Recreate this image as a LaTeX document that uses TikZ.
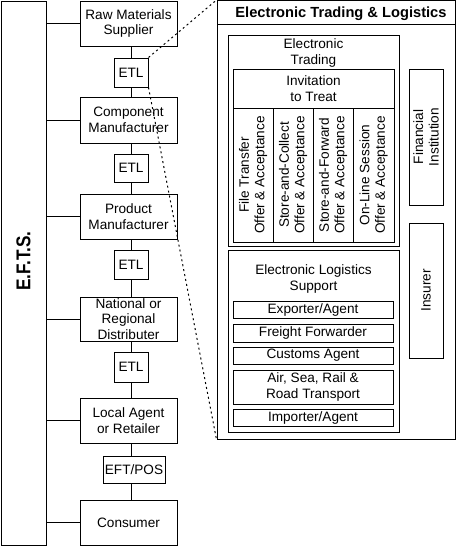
\documentclass[tikz,border=0pt]{standalone}
\usepackage{fontspec}
\setmainfont{Liberation Sans}
\newlength\pxu
\setlength\pxu{0.75pt}
\tikzset{
  box/.style={draw, line width=0.75pt, rectangle, inner sep=0pt, align=center,
    font=\fontsize{10.2}{11.6}\selectfont},
  wh/.style 2 args={minimum width=#1*\pxu, minimum height=#2*\pxu},
  conn/.style={line width=0.75pt},
  zoomline/.style={line width=0.75pt, dash pattern=on 1.5pt off 2.25pt},
}
\begin{document}
\begin{tikzpicture}[x=0.75pt, y=-0.75pt]
\useasboundingbox (0,0) rectangle (456,546);
% left column
\node[box, wh={544}{45}, rotate=90] (efts) at (23.5,273)
  {\hspace{18pt}\scalebox{0.86}[1]{\fontsize{15}{17}\selectfont\bfseries E.F.T.S.}};
\node[box, wh={97}{45}] (raw) at (128.5,23.5) {Raw Materials\\Supplier};
\node[box, wh={34}{29}] (etl1) at (131,72.5) {ETL};
\node[box, wh={97}{46}] (comp) at (128.5,120) {Component\\Manufacturer};
\node[box, wh={34}{28}] (etl2) at (131,168) {ETL};
\node[box, wh={97}{45}] (prod) at (128.5,216.5) {Product\\Manufacturer};
\node[box, wh={34}{29}] (etl3) at (131,264.5) {ETL};
\node[box, wh={97}{44}] (nat) at (128.5,319) {National or\\Regional\\Distributer};
\node[box, wh={34}{30}] (etl4) at (131,367) {ETL};
\node[box, wh={97}{45}] (local) at (128.5,420.5) {Local Agent\\or Retailer};
\node[box, wh={62}{27}] (eftpos) at (134,469.5) {EFT/POS};
\node[box, wh={97}{45}] (cons) at (128.5,522.5) {Consumer};
% horizontal connectors
\foreach \n in {raw,comp,prod,nat,local,cons}
  \draw[conn] (efts.south |- \n.west) -- (\n.west);
% vertical connectors
\draw[conn] (etl1.north) -- (etl1.north |- raw.south);
\draw[conn] (etl1.south) -- (etl1.south |- comp.north);
\draw[conn] (etl2.north) -- (etl2.north |- comp.south);
\draw[conn] (etl2.south) -- (etl2.south |- prod.north);
\draw[conn] (etl3.north) -- (etl3.north |- prod.south);
\draw[conn] (etl3.south) -- (etl3.south |- nat.north);
\draw[conn] (etl4.north) -- (etl4.north |- nat.south);
\draw[conn] (etl4.south) -- (etl4.south |- local.north);
\draw[conn] (eftpos.north -| etl4.south) -- (local.south -| etl4.south);
\draw[conn] (eftpos.south -| etl4.south) -- (cons.north -| etl4.south);
% right panel
\node[box, wh={238}{438.5}] (etlbox) at (336,219.75) {};
\node[box, wh={238}{23.5}, anchor=north west, font=\fontsize{11}{13}\selectfont\bfseries,
  text depth=0pt] (title) at (etlbox.north west) {\hspace{7.5pt}Electronic Trading \& Logistics};
\node[box, wh={171}{211}] (et) at (313.5,140.5) {};
\node[align=center, font=\fontsize{10.2}{11.6}\selectfont, inner sep=0pt] (ettxt) at (313.5,53) {Electronic\\Trading};
\node[box, wh={161}{39}] (itt) at (313.5,88.5) {Invitation\\to Treat};
\node[box, wh={134}{40}, rotate=90] (c1) at (253,175) {File Transfer\\Offer \& Acceptance};
\node[box, wh={134}{40}, rotate=90] (c2) at (293,175) {Store-and-Collect\\Offer \& Acceptance};
\node[box, wh={134}{40}, rotate=90] (c3) at (333,175) {Store-and-Forward\\Offer \& Acceptance};
\node[box, wh={134}{41}, rotate=90] (c4) at (373.5,175) {On-Line Session\\Offer \& Acceptance};
\node[box, wh={136}{34}, rotate=90] (fi) at (426,137) {Financial\\Institution};
\node[box, wh={135}{34}, rotate=90] (ins) at (426,290.5) {Insurer};
\node[box, wh={171}{182}] (els) at (313.5,341) {};
\node[align=center, font=\fontsize{10.2}{11.6}\selectfont, inner sep=0pt] (elstxt) at (313.5,279) {Electronic Logistics\\Support};
\node[box, wh={160}{17}] (exp) at (313,309.5) {Exporter/Agent};
\node[box, wh={160}{18}] (ff) at (313,333) {Freight Forwarder};
\node[box, wh={160}{17}] (cust) at (313,355.5) {Customs Agent};
\node[box, wh={160}{34}] (air) at (313,387) {Air, Sea, Rail \&\\Road Transport};
\node[box, wh={160}{17}] (imp) at (313,417.5) {Importer/Agent};
% zoom lines
\draw[zoomline] (etl1.north east) -- (etlbox.north west);
\draw[zoomline] (etl1.south east) -- (etlbox.south west);
\end{tikzpicture}
\end{document}
